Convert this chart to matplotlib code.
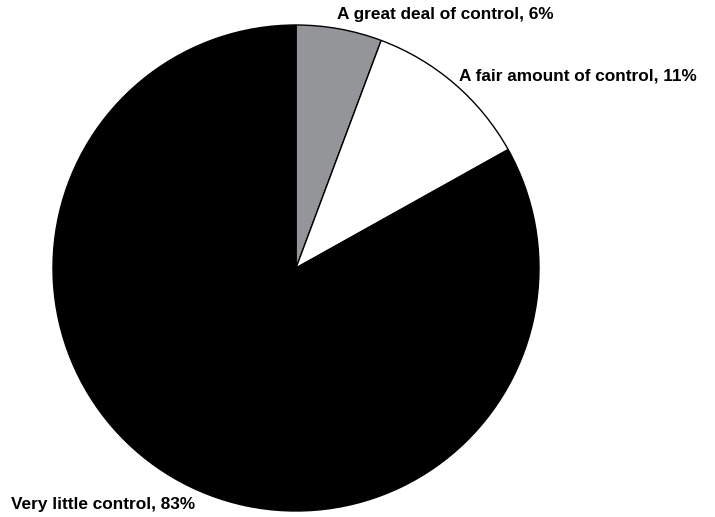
import matplotlib.pyplot as plt

# Data (slice sizes, labels as printed)
labels = ["A great deal of control", "A fair amount of control", "Very little control"]
values = [5.7, 11.2, 83.1]
label_pct = [6, 11, 83]
colors = ["#939598", "#ffffff", "#000000"]

plt.rcParams['font.family'] = ['Liberation Sans', 'DejaVu Sans']

W, H = 715, 517
fig = plt.figure(figsize=(W / 100, H / 100), dpi=100)

# pie centre and radius in pixels
cx, cy, r = 296, 268, 243
ax = fig.add_axes([(cx - r) / W, (H - cy - r) / H, 2 * r / W, 2 * r / H])
ax.pie(values, colors=colors, startangle=90, counterclock=False, radius=1,
       wedgeprops=dict(edgecolor="black", linewidth=1.0))
ax.set_xlim(-1, 1)
ax.set_ylim(-1, 1)
ax.set_aspect('auto')
ax.axis('off')

# label positions (left x, centre y) in pixels
label_pos = [(337, 15), (459, 76), (11, 505)]
for (lx, ly), lab, p in zip(label_pos, labels, label_pct):
    fig.text(lx / W, 1 - ly / H, f"{lab}, {p}%", fontsize=12.4, fontweight='bold',
             ha='left', va='center')

fig.savefig("out.png", dpi=100)
